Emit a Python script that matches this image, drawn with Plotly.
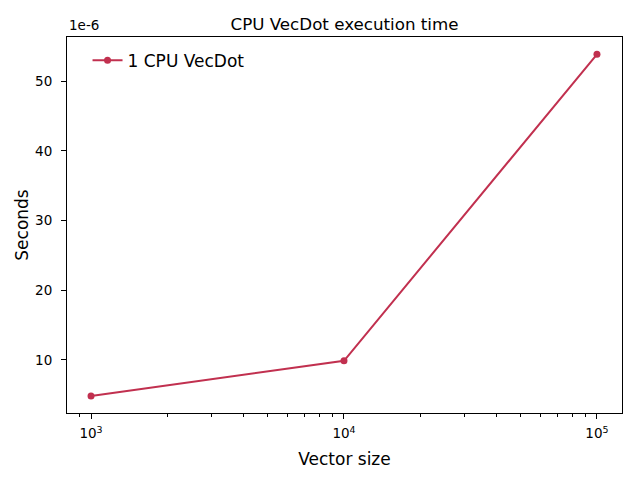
import plotly.graph_objects as go

vector_sizes = [1e3, 1e4, 1e5]
seconds = [4.82e-6, 9.86e-6, 53.85e-6]
series_name = "1 CPU VecDot"
x_tick_vals = [1e3, 1e4, 1e5]
x_tick_text = ["10<sup>3</sup>", "10<sup>4</sup>", "10<sup>5</sup>"]
y_tick_vals = [10, 20, 30, 40, 50]
scale = 1e-6

color = "#c1304f"
font = "DejaVu Sans"
# page body adds an 8px offset; compensate in margins
off = 8

fig = go.Figure()
fig.add_trace(go.Scatter(
    x=vector_sizes, y=[v / scale for v in seconds], mode="lines+markers",
    name=series_name, line=dict(color=color, width=2),
    marker=dict(color=color, size=7)))

fig.update_layout(
    width=640, height=480,
    margin=dict(l=67 - off, r=18 + off, t=37 - off, b=67 + off, autoexpand=False),
    plot_bgcolor="white", paper_bgcolor="white",
    font=dict(family=font, color="black", size=13),
    title=dict(text="CPU VecDot execution time", x=0.5, xanchor="center",
               xref="paper", yref="container", y=1 - (24 - off) / 480,
               yanchor="middle", font=dict(size=16.7)),
    showlegend=True,
    legend=dict(x=0.037, y=0.985, xanchor="left", yanchor="top",
                bgcolor="rgba(0,0,0,0)", font=dict(size=17)),
    xaxis=dict(type="log", range=[2.905, 5.099], tickvals=x_tick_vals,
               ticktext=x_tick_text, ticks="outside", ticklen=5,
               tickcolor="black", showline=True, linecolor="black",
               linewidth=1, mirror=True, showgrid=False, zeroline=False,
               tickfont=dict(size=13.5), automargin=False, ticklabelstandoff=3,
               minor=dict(ticks="outside", ticklen=3, tickcolor="black",
                          dtick="D1", showgrid=False),
               title=dict(text="Vector size", font=dict(size=17), standoff=12)),
    yaxis=dict(range=[2.37, 56.33], tickvals=y_tick_vals, ticks="outside",
               ticklen=5, tickcolor="black", showline=True, linecolor="black",
               linewidth=1, mirror=True, showgrid=False, zeroline=False,
               tickfont=dict(size=13.5), automargin=False, ticklabelstandoff=6,
               title=dict(text="Seconds", font=dict(size=17), standoff=2)),
)
fig.add_annotation(text="1e-6", xref="paper", yref="paper", x=0, y=1,
                   xanchor="left", yanchor="bottom", yshift=2,
                   showarrow=False, font=dict(size=13.5))

fig.write_html("out.html")
